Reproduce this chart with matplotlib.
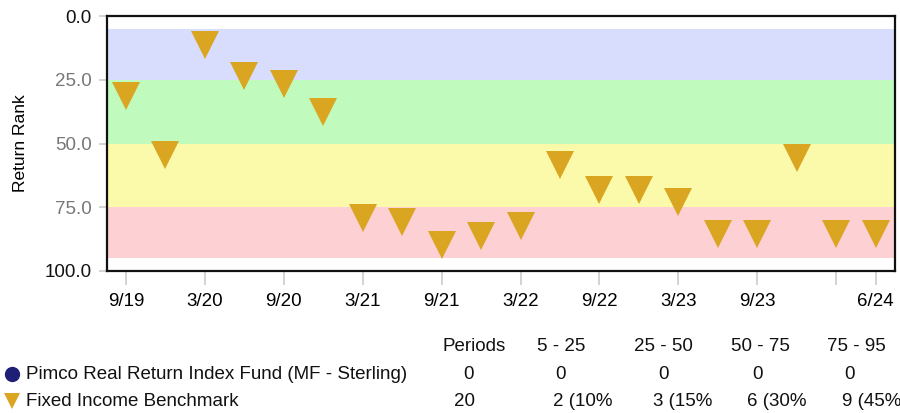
import matplotlib.pyplot as plt
from matplotlib.lines import Line2D

plt.rcParams['font.family'] = ['Liberation Sans', 'DejaVu Sans']

# Quarter-end dates and benchmark return rank for each quarter
quarters = ["9/19", "12/19", "3/20", "6/20", "9/20", "12/20", "3/21", "6/21",
            "9/21", "12/21", "3/22", "6/22", "9/22", "12/22", "3/23", "6/23",
            "9/23", "12/23", "3/24", "6/24"]
benchmark_rank = [31.4, 54.5, 11.4, 23.5, 26.7, 37.6, 79.2, 80.8, 90.0, 86.3,
                  82.4, 58.4, 68.2, 68.2, 72.9, 85.5, 85.5, 55.5, 85.5, 85.5]

# Quartile bands (lower, upper, colour)
band_edges = [5, 25, 50, 75, 95]
band_colors = ["#d9ddfd", "#c0fabd", "#fafaaa", "#fdd0d4"]

# Labelled x ticks (3/24 has a tick but no label)
tick_idx = [0, 2, 4, 6, 8, 10, 12, 14, 16, 18, 19]
tick_text = [quarters[i] for i in tick_idx]
tick_text[-2] = ""

# Summary table
col_heads = ["Periods", "5 - 25", "25 - 50", "50 - 75", "75 - 95"]
fund_name = "Pimco Real Return Index Fund (MF - Sterling)"
fund_row = ["0", "0", "0", "0", "0"]
bench_name = "Fixed Income Benchmark"
bench_row = ["20", "2 (10%", "3 (15%", "6 (30%", "9 (45%"]

gold = "#daa520"
navy = "#1f1f78"

fig = plt.figure(figsize=(9, 4.13), dpi=100)
ax = fig.add_axes([0.119, 0.344, 0.875, 0.617])

x = list(range(len(quarters)))
for lo, hi, c in zip(band_edges[:-1], band_edges[1:], band_colors):
    ax.axhspan(lo, hi, color=c, lw=0, zorder=0)

ax.plot(x, benchmark_rank, linestyle="none", marker="v", markersize=19.5,
        color=gold, markeredgewidth=0, zorder=3)

ax.set_xlim(-0.48, 19.48)
ax.set_ylim(100, 0)
ax.set_yticks([0, 25, 50, 75, 100])
ax.set_yticklabels(["0.0", "25.0", "50.0", "75.0", "100.0"], fontsize=13.5)
for lbl, col in zip(ax.get_yticklabels(), ["#111", "#777", "#777", "#777", "#111"]):
    lbl.set_color(col)
ax.set_xticks(tick_idx)
ax.set_xticklabels(tick_text, fontsize=13.5)
ax.tick_params(axis="y", length=6, color="#cccccc", width=1.2, pad=5)
ax.tick_params(axis="x", length=10, color="#cccccc", width=1.2, pad=6)
ax.set_ylabel("Return Rank", fontsize=12.5, labelpad=12)
for s in ax.spines.values():
    s.set_linewidth(1.6)
    s.set_color("#111")

# Table beneath the chart
col_x = [0.527, 0.623, 0.737, 0.845, 0.951]
y_head, y_fund, y_bench = 0.162, 0.094, 0.029
for cx, h in zip(col_x, col_heads):
    fig.text(cx, y_head, h, ha="center", va="center", fontsize=13.5, color="#111")
fig.text(0.029, y_fund, fund_name, ha="left", va="center", fontsize=13.5, color="#111")
fig.text(0.029, y_bench, bench_name, ha="left", va="center", fontsize=13.5, color="#111")
fund_x = [0.520, 0.623, 0.737, 0.842, 0.944]
for cx, v in zip(fund_x, fund_row):
    fig.text(cx, y_fund, v, ha="center", va="center", fontsize=13.5, color="#111")
bench_x = [0.516, 0.614, 0.726, 0.830, 0.936]
for i, (cx, v) in enumerate(zip(bench_x, bench_row)):
    fig.text(cx, y_bench, v, ha="center" if i == 0 else "left", va="center",
             fontsize=13.5, color="#111")

fig.add_artist(Line2D([0.0135], [y_fund], marker="o", markersize=10,
                      color=navy, transform=fig.transFigure))
fig.add_artist(Line2D([0.0135], [y_bench], marker="v", markersize=12,
                      color=gold, markeredgewidth=0, transform=fig.transFigure))

fig.savefig("out.png", dpi=100)
